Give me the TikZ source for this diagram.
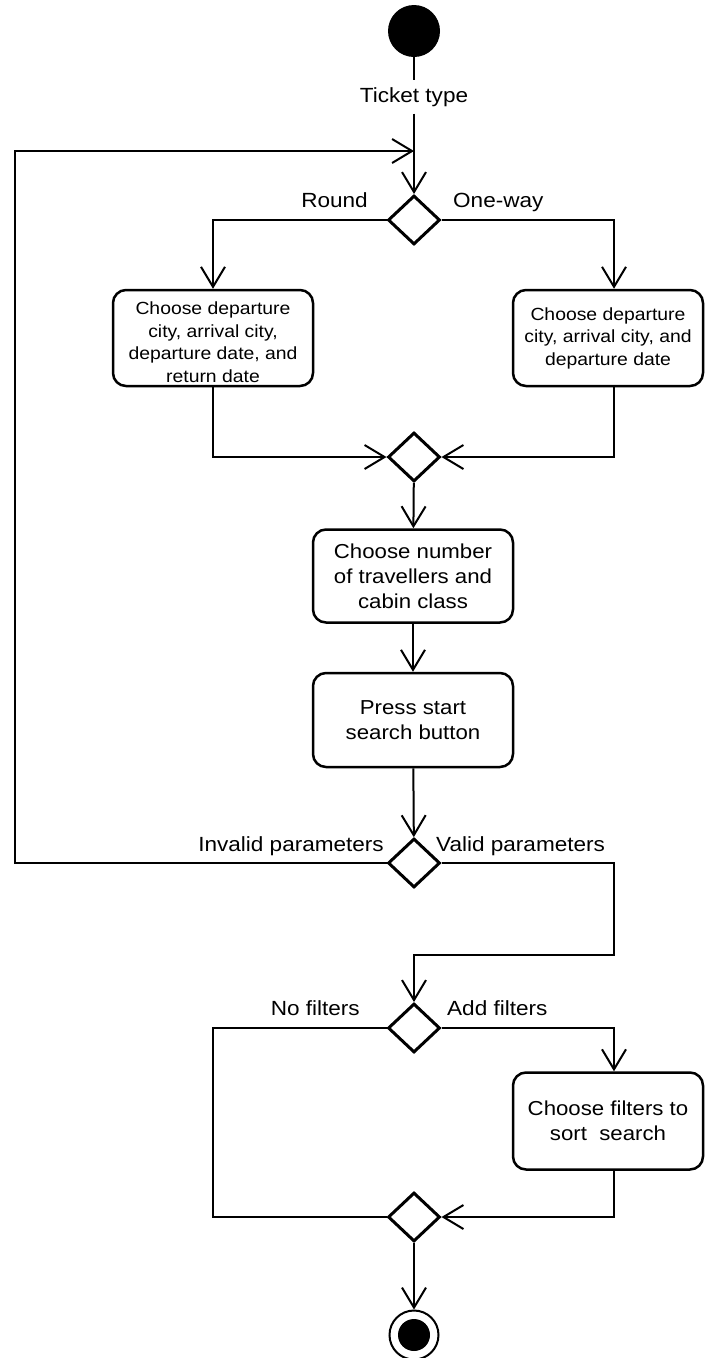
\documentclass[tikz,border=0pt]{standalone}
\usepackage{fontspec}
\setmainfont{Liberation Sans}[FakeStretch=1.1]
\usetikzlibrary{arrows.meta,shapes.geometric}

\begin{document}
\begin{tikzpicture}[x=1pt,y=-1pt,
  flow/.style={line width=2pt, line join=miter, -{Straight Barb[length=20pt,width=24pt]}},
  plain/.style={line width=2pt},
  act/.style={draw, line width=2.5pt, rounded corners=13pt, align=center, inner sep=0pt},
  decision/.style={draw, diamond, line width=3pt, minimum width=52pt, minimum height=49pt, inner sep=0pt},
  lbl/.style={inner sep=0pt, font=\fontsize{20.5}{22}\selectfont},
  small/.style={font=\fontsize{17.6}{22.5}\selectfont},
  big/.style={font=\fontsize{20.2}{25}\selectfont},
]
\useasboundingbox (0,0) rectangle (705,1358);

% initial and final states
\node[circle, fill=black, minimum size=52pt, inner sep=0pt] (start) at (414,31) {};
\node[circle, draw, line width=2pt, minimum size=49pt, inner sep=0pt] (end) at (414,1335) {};
\node[circle, fill=black, minimum size=32pt, inner sep=0pt] (endin) at (end) {};

% guard on the first flow
\node[lbl, minimum height=33pt] (tt) at (414,97) {Ticket type};

% decisions and merges
\node[decision] (d1) at (414,220) {};
\node[decision] (d2) at (414,457) {};
\node[decision] (d3) at (414,863) {};
\node[decision] (d4) at (414,1028) {};
\node[decision] (d5) at (414,1217) {};

% actions
\node[act, small, minimum width=200pt, minimum height=96pt] (b1) at (213,338)
  {\rule{0pt}{21pt}Choose departure\\city, arrival city,\\departure date, and\\return date};
\node[act, small, minimum width=190pt, minimum height=96pt] (b2) at (608,338)
  {Choose departure\\city, arrival city, and\\departure date};
\node[act, big, minimum width=200pt, minimum height=93pt] (b3) at (413,576)
  {Choose number\\of travellers and\\cabin class};
\node[act, big, minimum width=200pt, minimum height=94pt] (b4) at (413,720)
  {Press start\\search button};
\node[act, big, minimum width=190pt, minimum height=97pt] (b5) at (608,1121)
  {Choose filters to\\sort\ \ search};

% branch labels
\node[lbl, anchor=base east] (lround) at (368,207) {Round};
\node[lbl, anchor=base west] (loneway) at (453,207) {One-way};
\node[lbl, anchor=base east] (linvalid) at (384,851) {Invalid parameters};
\node[lbl, anchor=base west] (lvalid) at (436,851) {Valid parameters};
\node[lbl, anchor=base east] (lnof) at (360,1015) {No filters};
\node[lbl, anchor=base west] (laddf) at (447,1015) {Add filters};

% corner points of the routed flows
\coordinate (lft) at (15,151);
\coordinate (loopin) at (414,151);
\coordinate (vr) at (614,955);
\coordinate (lb) at (213,1217);

% flows
\draw[plain] (start) -- (tt);
\draw[flow] (tt) -- (d1);
\draw[flow] (d1.west) -| (b1);
\draw[flow] (d1.east) -| ([xshift=6pt]b2.north);
\draw[flow] (b1.south) |- (d2.west);
\draw[flow] ([xshift=6pt]b2.south) |- (d2.east);
\draw[flow] (d2) -- (b3);
\draw[flow] (b3) -- (b4);
\draw[flow] (b4) -- (d3);
\draw[flow] (d3.west) -| (lft) -- (loopin);
\draw[flow] (d3.east) -| (vr) -| (d4.north);
\draw[flow] (d4.east) -| ([xshift=6pt]b5.north);
\draw[plain] (d4.west) -| (lb) -- (d5.west);
\draw[flow] ([xshift=6pt]b5.south) |- (d5.east);
\draw[flow] (d5) -- (end);
\end{tikzpicture}
\end{document}
